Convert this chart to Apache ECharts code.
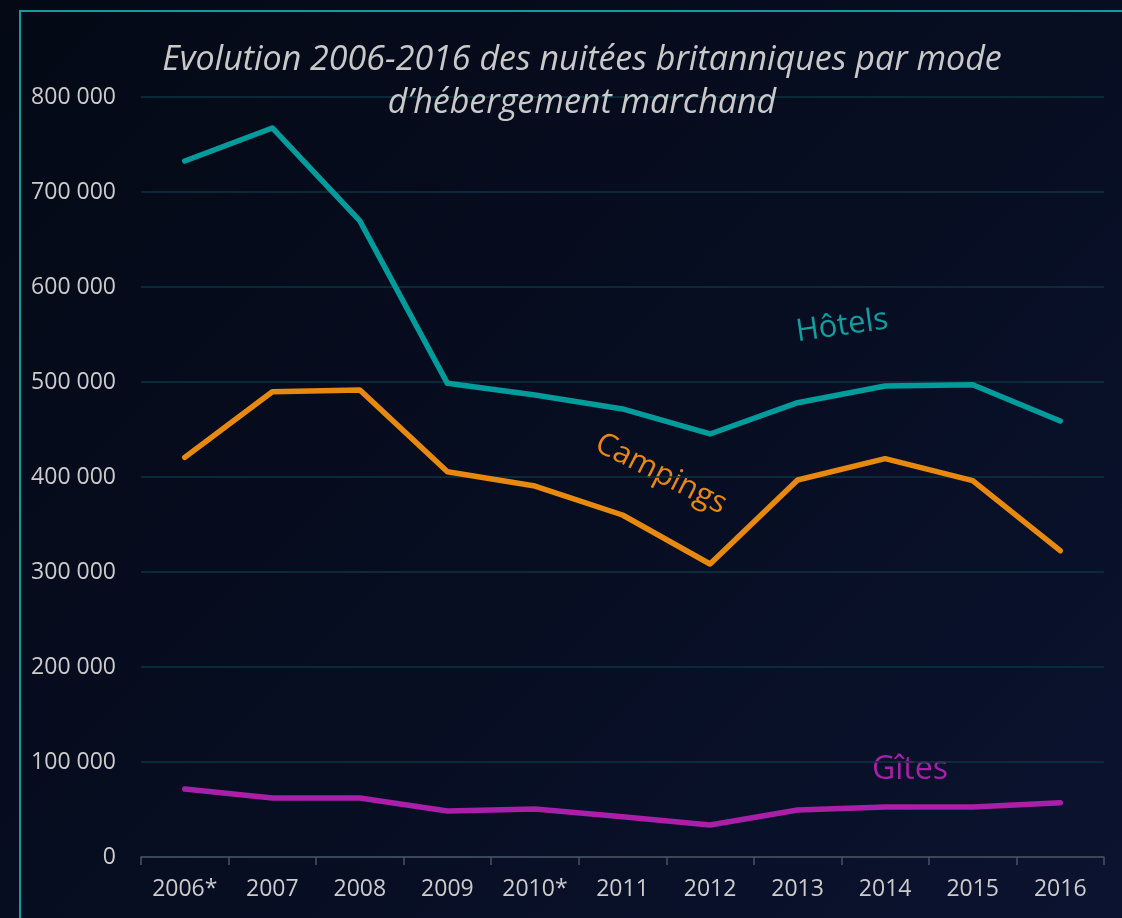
<!DOCTYPE html>
<html>
<head>
<meta charset="utf-8">
<script src="https://cdn.jsdelivr.net/npm/echarts@6/dist/echarts.min.js"></script>
<style>
  html, body { margin: 0; padding: 0; }
  body { background: linear-gradient(135deg, #040915 0%, #070e22 55%, #0b1330 100%); }
  #chart { width: 1122px; height: 918px; }
</style>
</head>
<body>
<div id="chart"></div>
<script>
// années
var years = ['2006*', '2007', '2008', '2009', '2010*', '2011', '2012', '2013', '2014', '2015', '2016'];
// nuitées par mode d'hébergement
var hotels = [732600, 767400, 669500, 498600, 486300, 471600, 445300, 478200, 495800, 497100, 458900];
var campings = [420700, 489800, 491600, 405600, 390500, 360000, 308400, 396800, 419300, 396100, 322400];
var gites = [71600, 62100, 62100, 48500, 50500, 42400, 33700, 49500, 52600, 52600, 57100];

var fontFam = '"Open Sans", "Noto Sans", sans-serif';

var chart = echarts.init(document.getElementById('chart'));

function fmt(v) {
  return String(v).replace(/\B(?=(\d{3})+(?!\d))/g, ' ');
}

function serie(name, data, color) {
  return {
    name: name,
    type: 'line',
    data: data,
    symbol: 'none',
    lineStyle: { color: color, width: 5.5, cap: 'round', join: 'round' },
    itemStyle: { color: color }
  };
}

chart.setOption({
  backgroundColor: 'transparent',
  animation: false,
  title: {
    text: 'Evolution 2006-2016 des nuitées britanniques par mode\nd\u2019hébergement marchand',
    left: 577,
    top: 34,
    textAlign: 'center',
    textStyle: {
      color: '#c9c9c9',
      fontStyle: 'italic',
      fontWeight: 'normal',
      fontSize: 34,
      lineHeight: 43,
      fontFamily: fontFam
    }
  },
  grid: { left: 141, right: 18, top: 97, bottom: 61 },
  xAxis: {
    type: 'category',
    data: years,
    boundaryGap: true,
    axisLine: { lineStyle: { color: '#4b5264', width: 1.5 } },
    axisTick: { show: true, length: 8, alignWithLabel: false, lineStyle: { color: '#4b5264', width: 1.5 } },
    axisLabel: { color: '#cccccc', fontSize: 23, margin: 21, fontFamily: fontFam }
  },
  yAxis: {
    type: 'value',
    min: 0,
    max: 800000,
    interval: 100000,
    axisLine: { show: false },
    axisTick: { show: false },
    splitLine: { lineStyle: { color: '#0c3540', width: 1.5 } },
    axisLabel: { color: '#cccccc', fontSize: 23, margin: 25, fontFamily: fontFam, formatter: fmt }
  },
  graphic: [
    {
      type: 'rect',
      shape: { x: 20, y: 11, width: 1300, height: 1100 },
      style: { fill: 'none', stroke: '#0e9c9c', lineWidth: 2 },
      silent: true
    },
    {
      type: 'text', x: 842, y: 326, rotation: 8 * Math.PI / 180,
      style: { text: 'Hôtels', fill: '#0ea0a0', fontSize: 31, fontFamily: fontFam, align: 'center', verticalAlign: 'middle' }
    },
    {
      type: 'text', x: 661, y: 474, rotation: -27 * Math.PI / 180,
      style: { text: 'Campings', fill: '#e8890f', fontSize: 31, fontFamily: fontFam, align: 'center', verticalAlign: 'middle' }
    },
    {
      type: 'text', x: 910, y: 770,
      style: { text: 'Gîtes', fill: '#a91fa8', fontSize: 32, fontFamily: fontFam, align: 'center', verticalAlign: 'middle' }
    }
  ],
  series: [
    serie('Hôtels', hotels, '#009b9b'),
    serie('Campings', campings, '#e8890f'),
    serie('Gîtes', gites, '#a91fa8')
  ]
});
</script>
</body>
</html>
